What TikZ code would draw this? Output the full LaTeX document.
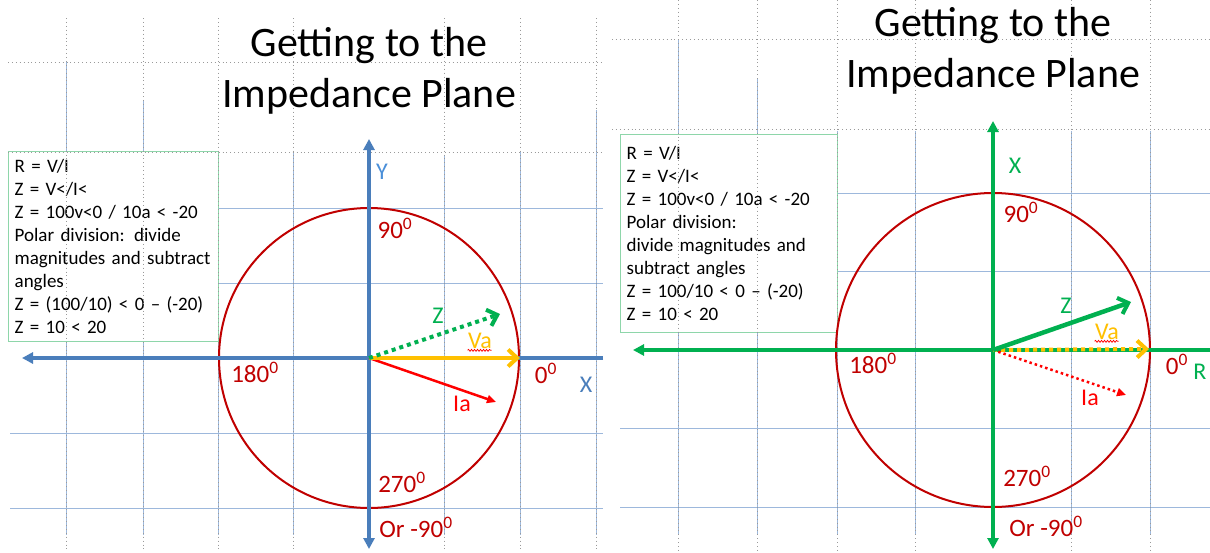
\documentclass[tikz,border=0pt]{standalone}
\usepackage{fontspec}
\setmainfont{Carlito}
\usepackage{tikz}
\usetikzlibrary{arrows.meta,decorations.pathmorphing}
\definecolor{cAxisBlue}{HTML}{4A7EBB}
\definecolor{cGridBlue}{HTML}{9DB8DC}
\definecolor{cGuide}{HTML}{9A9A9A}
\definecolor{cGreen}{HTML}{00B050}
\definecolor{cDarkRed}{HTML}{C00000}
\definecolor{cRed}{HTML}{FF0000}
\definecolor{cGold}{HTML}{FFC000}
\definecolor{cMint}{HTML}{8ED6AA}
\definecolor{cLabelBlue}{HTML}{4A8FD9}

\begin{document}
\begin{tikzpicture}[
  x=1pt,y=-1pt,
  gridln/.style={cGridBlue,line width=1pt},
  guide/.style={cGuide,line width=0.9pt,dash pattern=on 0.9pt off 3pt},
  axisL/.style={cAxisBlue,line width=3.5pt},
  axisR/.style={cGreen,line width=3.5pt},
  tri/.tip={Triangle[length=11pt,width=11pt]},
  circ/.style={cDarkRed,line width=2pt},
  note/.style={draw=cMint,line width=1.3pt,fill=white,anchor=north west,
    align=left,inner xsep=6pt,font=\fontsize{19}{23}\selectfont},
  title/.style={align=center,font=\fontsize{42}{51}\selectfont},
  deg/.style={text=cDarkRed,font=\fontsize{25}{28}\selectfont},
  lbl/.style={font=\fontsize{24}{28}\selectfont},
  barb/.style={-{Straight Barb[length=9pt,width=17pt,line width=4pt]}},
  squig/.style={cRed,line width=0.7pt,decorate,
    decoration={snake,amplitude=1pt,segment length=3pt}}
]
\useasboundingbox (0,0) rectangle (1210,552);
\fill[white] (0,0) rectangle (1210,552);

% --- left slide: grid ---
\foreach \gx/\gt in {66/62,143/100,218/152,293/152,444/155,520/152,596/110}
  \draw[gridln] (\gx,\gt) -- (\gx,535);
\foreach \gy in {208,283,433,508}
  \draw[gridln] (10,\gy) -- (603,\gy);
\node[note,minimum width=210pt,minimum height=190pt,text width=198pt] (noteL) at (8,151)
  {R = V/I\\
   Z = V</I<\\
   Z = 100v<0 / 10a < -20\\
   Polar division: divide\\
   magnitudes and subtract\\
   angles\\
   Z = (100/10) < 0 -- (-20)\\
   Z = 10 < 20};
\foreach \gx in {66,143,218,293,444,520,596}
  \draw[guide] (\gx,18) -- (\gx,552);
\foreach \gy in {62,152}
  \draw[guide] (8,\gy) -- (603,\gy);

\node[title] (titleL) at (369,71) {Getting to the\\Impedance Plane};

% --- left slide: axes and circle ---
\coordinate (oL) at (369,358);
\coordinate (xL) at (22,358);
\coordinate (xLend) at (603,358);
\coordinate (yLtop) at (369,139);
\coordinate (yLbot) at (369,549);
\draw[circ] (oL) circle[radius=150];
\draw[axisL,-tri] (xLend) -- (xL);
\draw[axisL,tri-tri] (yLtop) -- (yLbot);

% phasors
\coordinate (zL) at (500,314);
\coordinate (vaL) at (520,358);
\coordinate (iaL) at (496,402);
\draw[cRed,line width=2.5pt,-{Triangle[length=9pt,width=8pt]}] (oL) -- (iaL);
\draw[cGold,line width=4pt,barb] (oL) -- (vaL);
\draw[cGreen,line width=4pt,dash pattern=on 4pt off 4pt,barb] (oL) -- (zL);

\node[lbl,text=cLabelBlue] (yLlab) at (382,172) {Y};
\node[lbl,text=cAxisBlue] (xLlab) at (586,385) {X};
\node[deg] (d90L) at (395,228) {90\textsuperscript{0}};
\node[deg] (d180L) at (255,372) {180\textsuperscript{0}};
\node[deg] (d270L) at (402,482) {270\textsuperscript{0}};
\node[deg] (dm90L) at (416,527) {Or -90\textsuperscript{0}};
\node[deg] (d0L) at (546,373) {0\textsuperscript{0}};
\node[lbl,text=cGreen] (zLlab) at (438,316) {Z};
\node[lbl,text=cGold] (vaLlab) at (480,341) {Va};
\node[lbl,text=cRed] (iaLlab) at (462,404) {Ia};
\draw[squig] ([xshift=3pt,yshift=2pt]vaLlab.south west) -- ++(24,0);

% --- right slide: grid ---
\foreach \gx/\gt in {678/40,757/79,837/131,915/131,1071/131,1150/131}
  \draw[gridln] (\gx,\gt) -- (\gx,535);
\foreach \gy in {193,271,428,507}
  \draw[gridln] (620,\gy) -- (1210,\gy);
\node[note,minimum width=217pt,minimum height=198pt,text width=205pt] (noteR) at (620,134)
  {R = V/I\\
   Z = V</I<\\
   Z = 100v<0 / 10a < -20\\
   Polar division:\\
   divide magnitudes and\\
   subtract angles\\
   Z = 100/10 < 0 -- (-20)\\
   Z = 10 < 20};
\foreach \gx in {678,757,837,915,1071,1150}
  \draw[guide] (\gx,0) -- (\gx,552);
\foreach \gy in {39,129}
  \draw[guide] (612,\gy) -- (1210,\gy);

\node[title] (titleR) at (993,51) {Getting to the\\Impedance Plane};

% --- right slide: axes and circle ---
\coordinate (oR) at (993,350);
\coordinate (xRl) at (633,350);
\coordinate (xRr) at (1210,350);
\coordinate (yRtop) at (993,121);
\coordinate (yRbot) at (993,549);
\draw[circ] (oR) circle[radius=157];
\draw[axisR,-tri] (xRr) -- (xRl);
\draw[axisR,tri-tri] (yRtop) -- (yRbot);

% phasors
\coordinate (zR) at (1131,302);
\coordinate (vaR) at (1149,349);
\coordinate (iaR) at (1126,395);
\draw[cRed,line width=2.5pt,dash pattern=on 2.5pt off 3pt,
  -{Triangle[length=9pt,width=8pt]}] (oR) -- (iaR);
\draw[cGold,line width=4pt,dash pattern=on 4pt off 4pt,barb] (oR) -- (vaR);
\draw[cGreen,line width=4.5pt,barb] (oR) -- (zR);

\node[lbl,text=cGreen] (xRlab) at (1015,166) {X};
\node[lbl,text=cGreen] (rRlab) at (1200,372) {R};
\node[deg] (d90R) at (1021,212) {90\textsuperscript{0}};
\node[deg] (d180R) at (873,363) {180\textsuperscript{0}};
\node[deg] (d270R) at (1027,476) {270\textsuperscript{0}};
\node[deg] (dm90R) at (1046,526) {Or -90\textsuperscript{0}};
\node[deg] (d0R) at (1177,364) {0\textsuperscript{0}};
\node[lbl,text=cGreen] (zRlab) at (1066,306) {Z};
\node[lbl,text=cGold] (vaRlab) at (1107,332) {Va};
\node[lbl,text=cRed] (iaRlab) at (1090,398) {Ia};
\draw[squig] ([xshift=3pt,yshift=2pt]vaRlab.south west) -- ++(24,0);
\end{tikzpicture}
\end{document}
